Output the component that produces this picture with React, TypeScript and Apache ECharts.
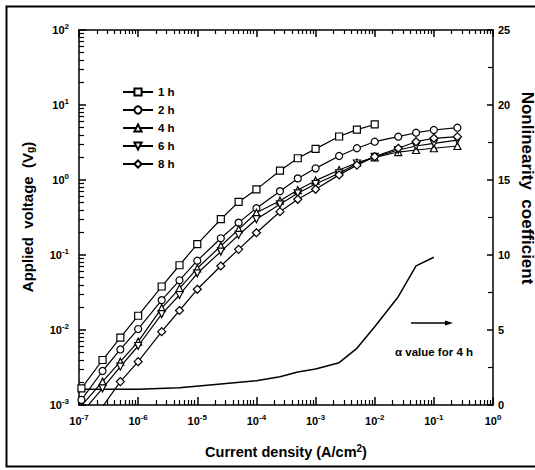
import React, { useEffect, useRef } from "react";
import * as echarts from "echarts";

// Current density (A/cm^2) sample points
const currentDensity = [1.1e-7, 2.5e-7, 5e-7, 1e-6, 2.5e-6, 5e-6, 1e-5, 2.5e-5, 5e-5, 1e-4, 2.5e-4, 5e-4, 1e-3, 2.5e-3, 5e-3, 1e-2, 2.5e-2, 5e-2, 1e-1, 2.5e-1];

// Applied voltage (Vg) for each sintering time
const v1h = [1.67e-3, 3.98e-3, 7.9e-3, 1.55e-2, 3.8e-2, 7.3e-2, 0.14, 0.30, 0.51, 0.75, 1.33, 1.95, 2.6, 3.8, 4.7, 5.5];
const v2h = [1.17e-3, 2.84e-3, 5.5e-3, 1.03e-2, 2.5e-2, 4.6e-2, 8.4e-2, 0.167, 0.27, 0.42, 0.71, 1.05, 1.43, 2.09, 2.65, 3.24, 3.78, 4.27, 4.64, 4.98];
const v4h = [9.8e-4, 2.05e-3, 3.78e-3, 6.98e-3, 1.96e-2, 3.6e-2, 6.65e-2, 0.132, 0.22, 0.366, 0.53, 0.735, 0.98, 1.36, 1.7, 2.0, 2.36, 2.51, 2.65, 2.84];
const v6h = [7.8e-4, 1.67e-3, 3.24e-3, 6.12e-3, 1.63e-2, 2.93e-2, 5.7e-2, 0.111, 0.185, 0.30, 0.474, 0.665, 0.885, 1.23, 1.66, 2.03, 2.51, 2.84, 3.08, 3.41];
const v8h = [5.3e-4, 9.5e-4, 2.05e-3, 3.78e-3, 9.5e-3, 1.82e-2, 3.49e-2, 7.13e-2, 0.119, 0.198, 0.378, 0.553, 0.752, 1.17, 1.58, 2.05, 2.65, 3.24, 3.6, 3.78];

// Nonlinearity coefficient (alpha) for 4 h
const alphaX = [1e-7, 1e-6, 5e-6, 2.5e-5, 1e-4, 2.5e-4, 5e-4, 1e-3, 2.5e-3, 5e-3, 1e-2, 2.5e-2, 5e-2, 1e-1];
const alphaV = [1.05, 1.05, 1.15, 1.4, 1.62, 1.89, 2.2, 2.4, 2.82, 3.78, 5.22, 7.22, 9.27, 9.85];

const seriesNames = ["1 h", "2 h", "4 h", "6 h", "8 h"];
const X_MIN = 1e-7, X_MAX = 1;
const Y_MIN = 1e-3, Y_MAX = 1e2;
const A_MIN = 0, A_MAX = 25, A_STEP = 5;

const FONT = "'Liberation Sans', Arial, sans-serif";

const expLabel = (v: number) => "10{s|" + Math.round(Math.log10(v)) + "}";
const labelRich = { s: { fontSize: 8, fontWeight: "bold", fontFamily: FONT, color: "#000", padding: [0, 0, 7, 0] } };

const tickStyle = { color: "#000", width: 1.5 };
const minorStyle = { color: "#000", width: 1.2 };

const graphics: any[] = [
  {
    type: "rect",
    shape: { x: 6.5, y: 6.5, width: 560, height: 460 },
    style: { fill: "none", stroke: "#000", lineWidth: 2 },
    silent: true,
    z: 0,
  },
  {
    type: "text",
    x: 286,
    y: 452,
    style: {
      text: "Current density (A/cm{s|2})",
      rich: { s: { fontSize: 10, fontWeight: "bold", fontFamily: FONT, padding: [0, 0, 7, 0] } },
      fontFamily: FONT,
      fontWeight: "bold",
      fontSize: 14.5,
      fill: "#000",
      align: "center",
      verticalAlign: "middle",
    },
  },
  {
    type: "text",
    x: 27,
    y: 217,
    rotation: Math.PI / 2,
    style: {
      text: "Applied  voltage  (V{s|g})",
      rich: { s: { fontSize: 10, fontWeight: "bold", fontFamily: FONT, padding: [7, 0, 0, 0] } },
      fontFamily: FONT,
      fontWeight: "bold",
      fontSize: 15,
      fill: "#000",
      align: "center",
      verticalAlign: "middle",
    },
  },
  {
    type: "text",
    x: 527,
    y: 188,
    rotation: -Math.PI / 2,
    style: {
      text: "Nonlinearity  coefficient",
      fontFamily: FONT,
      fontWeight: "bold",
      fontSize: 17,
      fill: "#000",
      align: "center",
      verticalAlign: "middle",
    },
  },
  {
    type: "line",
    shape: { x1: 411, y1: 323, x2: 447, y2: 323 },
    style: { stroke: "#000", lineWidth: 1.3 },
  },
  {
    type: "polygon",
    shape: { points: [[445, 320.5], [453, 323], [445, 325.5]] },
    style: { fill: "#000" },
  },
  {
    type: "text",
    x: 395,
    y: 352,
    style: {
      text: "α value for 4 h",
      fontFamily: FONT,
      fontWeight: "bold",
      fontSize: 11.5,
      fill: "#000",
      align: "left",
      verticalAlign: "middle",
    },
  },
];

function buildOption() {
  const symbols = ["rect", "circle", "triangle", "path://M0,0 L10,0 L5,10 Z", "diamond"];
  const values = [v1h, v2h, v4h, v6h, v8h];
  const lineSeries = values.map((vals, i) => ({
    name: seriesNames[i],
    type: "line",
    xAxisIndex: 0,
    yAxisIndex: 0,
    data: vals.map((v, j) => [currentDensity[j], v]),
    symbol: symbols[i],
    symbolSize: i === 4 ? 8 : 7,
    showSymbol: true,
    clip: true,
    lineStyle: { color: "#000", width: 1.2 },
    itemStyle: { color: "#fff", borderColor: "#000", borderWidth: 1.2 },
    z: 3,
  }));

  return {
    animation: false,
    backgroundColor: "#fff",
    grid: { left: 79, top: 30, width: 414, height: 375, containLabel: false },
    legend: {
      data: seriesNames,
      orient: "vertical",
      left: 117,
      top: 81,
      itemWidth: 30,
      itemHeight: 9,
      itemGap: 6,
      textStyle: { fontFamily: FONT, fontWeight: "bold", fontSize: 11.5, color: "#000" },
    },
    xAxis: [
      {
        type: "log",
        logBase: 10,
        min: X_MIN,
        max: X_MAX,
        position: "bottom",
        axisLine: { lineStyle: { color: "#000", width: 1.5 } },
        axisTick: { show: true, inside: true, length: 8, lineStyle: tickStyle },
        minorTick: { show: true, splitNumber: 9, length: 5, lineStyle: minorStyle },
        axisLabel: { formatter: expLabel, rich: labelRich, fontSize: 11, fontWeight: "bold", fontFamily: FONT, color: "#000", margin: 8 },
        splitLine: { show: false },
        minorSplitLine: { show: false },
      },
      {
        type: "log",
        logBase: 10,
        min: X_MIN,
        max: X_MAX,
        position: "top",
        axisLine: { lineStyle: { color: "#000", width: 1.5 } },
        axisTick: { show: true, inside: true, length: 7, lineStyle: tickStyle },
        minorTick: { show: true, splitNumber: 9, length: 4, lineStyle: minorStyle },
        axisLabel: { show: false },
        splitLine: { show: false },
        minorSplitLine: { show: false },
      },
    ],
    yAxis: [
      {
        type: "log",
        logBase: 10,
        min: Y_MIN,
        max: Y_MAX,
        position: "left",
        axisLine: { lineStyle: { color: "#000", width: 1.5 } },
        axisTick: { show: true, inside: true, length: 7, lineStyle: tickStyle },
        minorTick: { show: true, splitNumber: 9, length: 5, lineStyle: minorStyle },
        axisLabel: { formatter: expLabel, rich: labelRich, fontSize: 11, fontWeight: "bold", fontFamily: FONT, color: "#000", margin: 10 },
        splitLine: { show: false },
        minorSplitLine: { show: false },
      },
      {
        type: "value",
        min: A_MIN,
        max: A_MAX,
        interval: A_STEP,
        position: "right",
        axisLine: { lineStyle: { color: "#000", width: 1.5 } },
        axisTick: { show: true, inside: true, length: 6, lineStyle: tickStyle },
        minorTick: { show: true, splitNumber: 2, length: 5, lineStyle: minorStyle },
        axisLabel: { fontSize: 11, fontWeight: "bold", fontFamily: FONT, color: "#000", margin: 5 },
        splitLine: { show: false },
        minorSplitLine: { show: false },
      },
    ],
    series: [
      ...lineSeries,
      {
        name: "alpha",
        type: "line",
        xAxisIndex: 0,
        yAxisIndex: 1,
        data: alphaX.map((x, i) => [x, alphaV[i]]),
        showSymbol: false,
        symbol: "none",
        lineStyle: { color: "#000", width: 1.5 },
        z: 2,
      },
    ],
    graphic: graphics,
  };
}

export default function App() {
  const ref = useRef<HTMLDivElement>(null);
  useEffect(() => {
    if (!ref.current) return;
    const chart = echarts.init(ref.current, null, { renderer: "svg" });
    chart.setOption(buildOption() as any);
    return () => chart.dispose();
  }, []);
  return (
    <div
      ref={ref}
      style={{ position: "fixed", left: 0, top: 0, width: 535, height: 470, background: "#fff" }}
    />
  );
}
